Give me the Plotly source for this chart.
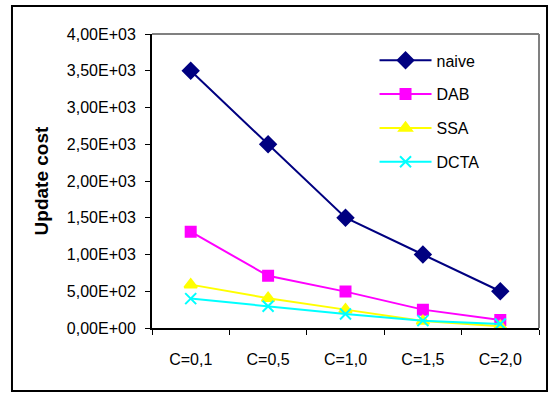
import plotly.graph_objects as go

categories = ["C=0,1", "C=0,5", "C=1,0", "C=1,5", "C=2,0"]
naive = [3500, 2500, 1500, 1000, 500]
dab = [1310, 710, 495, 250, 110]
ssa = [590, 405, 250, 95, 25]
dcta = [400, 295, 190, 100, 55]
y_tickvals = [0, 500, 1000, 1500, 2000, 2500, 3000, 3500, 4000]
y_ticktext = ["0,00E+00", "5,00E+02", "1,00E+03", "1,50E+03", "2,00E+03",
              "2,50E+03", "3,00E+03", "3,50E+03", "4,00E+03"]

series = [
    ("naive", naive, "#000080", "diamond", 12),
    ("DAB", dab, "#FF00FF", "square", 10),
    ("SSA", ssa, "#FFFF00", "triangle-up", 11),
    ("DCTA", dcta, "#00FFFF", "x-thin-open", 11),
]

fig = go.Figure()
for i, (name, vals, color, sym, size) in enumerate(series):
    fig.add_trace(go.Scatter(
        x=categories, y=vals, name=name, mode="lines+markers",
        line=dict(color=color, width=2),
        marker=dict(symbol=sym, size=size, color=color,
                    line=dict(color=color, width=2)),
        legendgroup=f"g{i}",
    ))

FONT = "Liberation Sans, Arial, sans-serif"
fig.update_layout(
    width=549, height=394,
    margin=dict(l=152, r=10, t=34, b=66),
    paper_bgcolor="white", plot_bgcolor="white",
    font=dict(family=FONT, size=16, color="black"),
    showlegend=True,
    legend=dict(x=0.575, y=0.968, xanchor="left", yanchor="top",
                bgcolor="rgba(0,0,0,0)", font=dict(size=16, family=FONT),
                tracegroupgap=10, itemwidth=52),
    xaxis=dict(type="category", range=[-0.5, 4.5], tickson="boundaries",
               showline=True, linecolor="black", linewidth=2,
               ticks="outside", ticklen=5, tickcolor="black", tickwidth=1,
               showgrid=False, zeroline=False, ticklabelstandoff=16,
               tickfont=dict(size=16, family=FONT)),
    yaxis=dict(range=[0, 4000], tickvals=y_tickvals, ticktext=y_ticktext,
               showline=True, linecolor="black", linewidth=2,
               ticks="outside", ticklen=5, tickcolor="black", tickwidth=1,
               showgrid=False, zeroline=False, ticklabelstandoff=6,
               tickfont=dict(size=16, family=FONT)),
    annotations=[dict(text="<b>Update cost</b>", textangle=-90,
                      xref="paper", yref="paper", x=-0.318, y=0.5,
                      showarrow=False, font=dict(size=19, family=FONT))],
    shapes=[
        dict(type="line", xref="paper", yref="paper", x0=0, x1=1, y0=1, y1=1,
             line=dict(color="#808080", width=2)),
        dict(type="line", xref="paper", yref="paper", x0=1, x1=1, y0=0, y1=1,
             line=dict(color="#808080", width=2)),
        dict(type="rect", xref="paper", yref="paper",
             x0=-0.3618, x1=1.0207, y0=-0.2143, y1=1.0952,
             line=dict(color="black", width=2)),
    ],
)

fig.write_html("out.html")
